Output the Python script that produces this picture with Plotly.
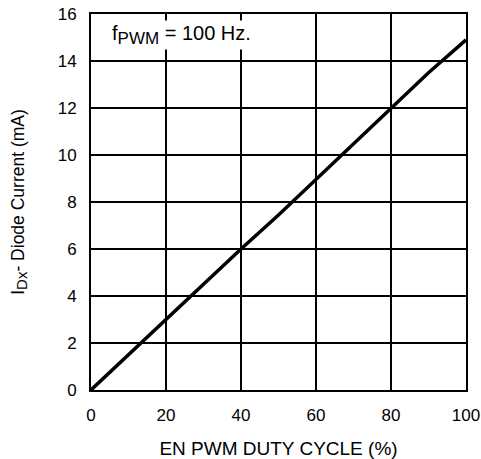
import plotly.graph_objects as go

duty = [0, 10, 20, 30, 40, 50, 55, 60, 70, 80, 90, 100]
current = [0, 1.5, 3.05, 4.55, 6.0, 7.45, 8.2, 8.95, 10.5, 12.0, 13.5, 14.9]
x_ticks = [0, 20, 40, 60, 80, 100]
y_ticks = [0, 2, 4, 6, 8, 10, 12, 14, 16]

font = "Liberation Sans, Arial, Helvetica, sans-serif"

fig = go.Figure()
fig.add_trace(go.Scatter(x=duty, y=current, mode="lines",
                         line=dict(color="black", width=3.5), showlegend=False))

fig.update_layout(
    width=481, height=459,
    margin=dict(l=91, r=15, t=14, b=69),
    paper_bgcolor="white", plot_bgcolor="white",
    font=dict(family=font, size=17, color="black"),
    xaxis=dict(range=[0, 100], tickvals=x_ticks, showgrid=True, gridcolor="black", gridwidth=1.5,
               showline=True, linecolor="black", linewidth=2, mirror=True, zeroline=False,
               automargin=False,
               ticks="outside", ticklen=9, tickcolor="white", tickwidth=0.1, tickfont=dict(size=17),
               title=dict(text="EN PWM DUTY CYCLE (%)", font=dict(size=19), standoff=18)),
    yaxis=dict(range=[0, 16], tickvals=y_ticks, showgrid=True, gridcolor="black", gridwidth=1.5,
               showline=True, linecolor="black", linewidth=2, mirror=True, zeroline=False,
               automargin=False,
               ticks="outside", ticklen=9, tickcolor="white", tickwidth=0.1, tickfont=dict(size=17),
               title=dict(text="I<sub><span style='font-size:15px'>Dx</span></sub>- Diode Current (mA)",
                          font=dict(size=17.5), standoff=29)),
    annotations=[dict(text="f<sub><span style='font-size:17px'>PWM</span></sub> = 100 Hz.",
                      x=5.0, y=15.1, xref="x", yref="y",
                      xanchor="left", yanchor="middle", showarrow=False,
                      font=dict(size=20, color="black"), bgcolor="white")],
)

fig.write_html("out.html", config={"displayModeBar": False},
               post_script="document.body.style.margin='0';")
